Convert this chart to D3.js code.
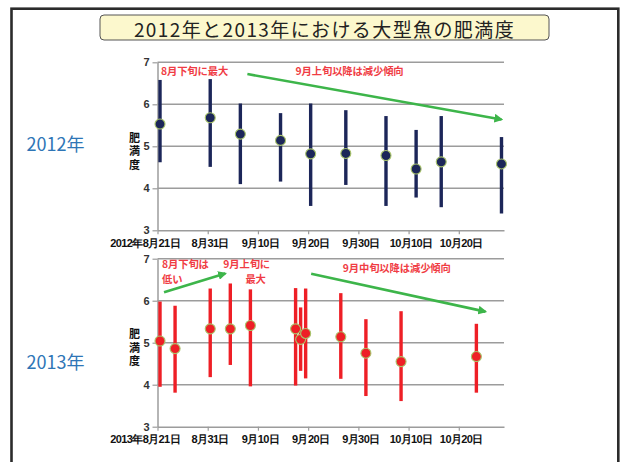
<!DOCTYPE html>
<html>
<head>
<meta charset="utf-8">
<script src="https://cdn.jsdelivr.net/npm/d3@7"></script>
<style>
  body { margin: 0; background: #fff; }
  svg { display: block; font-family: "Noto Sans CJK JP", "Noto Sans", sans-serif; }
</style>
</head>
<body>
<svg id="chart" width="621" height="462"></svg>
<script>
// ---- data ---------------------------------------------------------------
const chartTitle = "2012年と2013年における大型魚の肥満度";
const yTicks = [3, 4, 5, 6, 7];
const gridValues = [4, 5, 6, 7];
const axisTitle = "肥満度";

const tickDates2012 = ["2012-08-21", "2012-08-31", "2012-09-10", "2012-09-20", "2012-09-30", "2012-10-10", "2012-10-20"];
const tickLabels2012 = ["2012年8月21日", "8月31日", "9月10日", "9月20日", "9月30日", "10月10日", "10月20日"];
const tickDates2013 = ["2013-08-21", "2013-08-31", "2013-09-10", "2013-09-20", "2013-09-30", "2013-10-10", "2013-10-20"];
const tickLabels2013 = ["2013年8月21日", "8月31日", "9月10日", "9月20日", "9月30日", "10月10日", "10月20日"];

const dates2012 = ["2012-08-21", "2012-08-31", "2012-09-06", "2012-09-14", "2012-09-20", "2012-09-27", "2012-10-05", "2012-10-11", "2012-10-16", "2012-10-28"];
const mean2012  = [5.53, 5.68, 5.29, 5.14, 4.82, 4.83, 4.78, 4.46, 4.63, 4.58];
const max2012   = [6.58, 6.60, 6.02, 5.79, 6.02, 5.86, 5.72, 5.39, 5.72, 5.22];
const min2012   = [4.62, 4.51, 4.10, 4.16, 3.58, 4.08, 3.58, 3.78, 3.55, 3.40];

const dates2013 = ["2013-08-21", "2013-08-24", "2013-08-31", "2013-09-04", "2013-09-08", "2013-09-17", "2013-09-18", "2013-09-19", "2013-09-26", "2013-10-01", "2013-10-08", "2013-10-23"];
const mean2013  = [5.04, 4.86, 5.33, 5.33, 5.41, 5.33, 5.08, 5.22, 5.14, 4.75, 4.55, 4.67];
const max2013   = [5.98, 5.88, 6.29, 6.41, 6.27, 6.30, 5.84, 6.29, 6.18, 5.56, 5.75, 5.45];
const min2013   = [3.95, 3.81, 4.18, 4.47, 3.96, 3.98, 4.33, 4.15, 4.14, 3.73, 3.61, 3.81];

// notes: [lines, days after 8/21 for each line, value of first line]
const notes2012 = [
  [["8月下旬に最大"], [0.7], 6.82],
  [["9月上旬以降は減少傾向"], [27.5], 6.82]
];
const notes2013 = [
  [["8月下旬は", "低い"], [0.9, 0.9], 6.895],
  [["9月上旬に", "最大"], [13.1, 17.5], 6.895],
  [["9月中旬以降は減少傾向"], [36.9], 6.80]
];
// trend arrows: [start day, start value, end day, end value]
const arrows2012 = [[17.9, 6.72, 68.5, 5.64]];
const arrows2013 = [[1.3, 6.20, 13.5, 6.65], [30.6, 6.64, 65.3, 5.74]];

// ---- drawing ------------------------------------------------------------
const svg = d3.select("#chart");
const parse = d3.timeParse("%Y-%m-%d");
const GREEN = "#3db54a";

// outer frame
svg.append("rect")
  .attr("x", 11.5).attr("y", 8.7).attr("width", 606.8).attr("height", 480)
  .attr("fill", "none").attr("stroke", "#2b2b2b").attr("stroke-width", 2.6);

// title box
svg.append("rect")
  .attr("x", 100).attr("y", 15).attr("width", 449).attr("height", 25).attr("rx", 4)
  .attr("fill", "#fcf8cd").attr("stroke", "#555").attr("stroke-width", 1);
svg.append("text")
  .attr("x", 324.5).attr("y", 28.5)
  .attr("text-anchor", "middle").attr("dominant-baseline", "central")
  .attr("font-size", 19).attr("letter-spacing", 1.4).attr("fill", "#222")
  .text(chartTitle);

// arrowhead
svg.append("defs").append("marker")
  .attr("id", "arrowHead").attr("viewBox", "0 0 10 10")
  .attr("refX", 8).attr("refY", 5)
  .attr("markerWidth", 3.4).attr("markerHeight", 3.4)
  .attr("orient", "auto")
  .append("path").attr("d", "M0,0 L10,5 L0,10 Z").attr("fill", GREEN);

function drawPanel(opt) {
  const start = parse(opt.tickDates[0]);
  const end = d3.timeDay.offset(start, 69);
  const x = d3.scaleTime().domain([start, end]).range([157.5, 504]);
  const y = d3.scaleLinear().domain([3, 7]).range([opt.bottom, opt.bottom - 168]);
  const atDay = d => x(new Date(start.getTime() + d * 864e5));
  const mid = s => x(d3.timeHour.offset(parse(s), 12));

  const g = svg.append("g");

  // gridlines
  g.append("g").selectAll("line").data(gridValues).join("line")
    .attr("x1", x.range()[0]).attr("x2", x.range()[1])
    .attr("y1", d => y(d)).attr("y2", d => y(d))
    .attr("stroke", "#9c9c9c").attr("stroke-width", 1.5);

  // y axis
  const ya = g.append("g").attr("transform", `translate(${x.range()[0]},0)`)
    .call(d3.axisLeft(y).tickValues(yTicks).tickFormat(d3.format("d"))
      .tickSize(5).tickPadding(3).tickSizeOuter(0));
  ya.select(".domain").attr("stroke", "#9c9c9c").attr("stroke-width", 1.5);
  ya.selectAll(".tick line").attr("stroke", "#9c9c9c").attr("stroke-width", 1.2);
  ya.selectAll(".tick text").attr("font-size", 11).attr("fill", "#333")
    .attr("font-family", "Liberation Sans, Arial, sans-serif").attr("font-weight", "bold");

  // x axis
  const xa = g.append("g").attr("transform", `translate(0,${opt.bottom})`)
    .call(d3.axisBottom(x).tickValues(opt.tickDates.map(parse))
      .tickFormat((d, i) => opt.tickLabels[i]).tickSize(4).tickPadding(5).tickSizeOuter(0));
  xa.select(".domain").attr("stroke", "#9c9c9c").attr("stroke-width", 1.5);
  xa.selectAll(".tick line").attr("stroke", "#9c9c9c").attr("stroke-width", 1.2);
  xa.selectAll(".tick text").attr("font-size", 11).attr("fill", "#111")
    .attr("font-weight", "bold").attr("letter-spacing", -0.6).attr("dx", 2);
  xa.select(".tick text").attr("text-anchor", "end").attr("dx", 22);

  // axis title, written top-to-bottom
  g.append("text")
    .attr("x", 134.5).attr("y", y(5) - 14)
    .style("writing-mode", "vertical-rl")
    .attr("font-size", 11).attr("font-weight", "bold").attr("fill", "#111")
    .attr("letter-spacing", 2.3)
    .text(axisTitle);

  // year label
  svg.append("text")
    .attr("x", 26.5).attr("y", opt.yearY)
    .attr("dominant-baseline", "central")
    .attr("font-size", 18).attr("fill", "#2e75b6")
    .text(opt.year);

  // range bars
  const rows = opt.dates.map((d, i) => ({ d, mean: opt.mean[i], max: opt.max[i], min: opt.min[i] }));
  g.append("g").selectAll("line").data(rows).join("line")
    .attr("x1", r => mid(r.d)).attr("x2", r => mid(r.d))
    .attr("y1", r => y(r.max)).attr("y2", r => y(r.min))
    .attr("stroke", opt.color).attr("stroke-width", 3.4);

  // mean points
  g.append("g").selectAll("circle").data(rows).join("circle")
    .attr("cx", r => mid(r.d)).attr("cy", r => y(r.mean)).attr("r", 5)
    .attr("fill", opt.color).attr("stroke", "#a9c46c").attr("stroke-width", 1.1);

  // trend arrows
  g.append("g").selectAll("line").data(opt.arrows).join("line")
    .attr("x1", a => atDay(a[0])).attr("y1", a => y(a[1]))
    .attr("x2", a => atDay(a[2])).attr("y2", a => y(a[3]))
    .attr("stroke", GREEN).attr("stroke-width", 2.6)
    .attr("marker-end", "url(#arrowHead)");

  // notes (one text element per note, one tspan per line)
  g.append("g").selectAll("text").data(opt.notes).join("text")
    .attr("y", n => y(n[2]))
    .attr("dominant-baseline", "central")
    .attr("font-size", 10.3).attr("font-weight", "bold").attr("fill", "#f03c44")
    .attr("letter-spacing", -0.1)
    .selectAll("tspan").data(n => n[0].map((t, i) => ({ t, day: n[1][i], i }))).join("tspan")
    .attr("x", l => atDay(l.day))
    .attr("dy", l => l.i === 0 ? 0 : 14.5)
    .text(l => l.t);
}

drawPanel({
  bottom: 230.3, year: "2012年", yearY: 142.5, color: "#1c2659",
  tickDates: tickDates2012, tickLabels: tickLabels2012,
  dates: dates2012, mean: mean2012, max: max2012, min: min2012,
  notes: notes2012, arrows: arrows2012
});
drawPanel({
  bottom: 426.7, year: "2013年", yearY: 361, color: "#ee1f26",
  tickDates: tickDates2013, tickLabels: tickLabels2013,
  dates: dates2013, mean: mean2013, max: max2013, min: min2013,
  notes: notes2013, arrows: arrows2013
});
</script>
</body>
</html>
